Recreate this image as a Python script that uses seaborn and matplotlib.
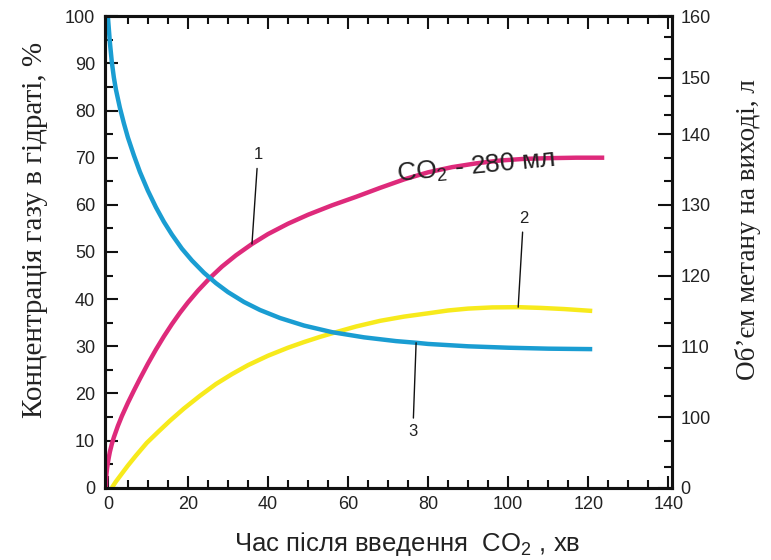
import numpy as np
import pandas as pd
import matplotlib
matplotlib.use("Agg")
import matplotlib.pyplot as plt
import seaborn as sns

# curve 1 (magenta) - CO2 280 ml
x1 = [-0.5, -0.45, -0.35, -0.2, 0, 0.25, 0.5, 1, 1.5, 2.5, 3.5, 5, 6.5, 8, 10, 12, 14, 16,
      18, 20, 22.5, 25.5, 28.5, 32, 36, 40, 45, 50, 56, 62, 68, 74, 80, 86, 92, 98, 104,
      110, 117, 124]
y1 = [0, 1.7, 2.9, 4.1, 5.3, 6.5, 7.6, 9.3, 10.7, 13.1, 15.2, 18, 20.6, 23.1, 26.3, 29.3,
      32.1, 34.7, 37.1, 39.3, 41.8, 44.5, 46.9, 49.3, 51.7, 53.8, 56, 57.9, 59.9, 61.7, 63.6,
      65.4, 66.9, 68, 68.8, 69.4, 69.75, 69.9, 70, 70]

# curve 2 (yellow)
x2 = [1, 2, 3.5, 5, 7, 9.7, 12.5, 15.5, 19, 23, 27, 31, 35, 40, 45, 49, 53, 57, 62, 68,
      74, 80, 85, 90, 96, 102.5, 108, 114, 121]
y2 = [0, 1.3, 3, 4.7, 6.8, 9.5, 11.8, 14.2, 16.8, 19.5, 22, 24.1, 26, 28, 29.7, 30.9, 32, 33,
      34.2, 35.4, 36.3, 37, 37.6, 38, 38.25, 38.3, 38.15, 37.9, 37.5]

# curve 3 (blue)
x3 = [0, 0.5, 1, 1.5, 2, 3, 4, 5, 6.5, 8, 10, 12, 14, 16, 18.5, 21, 24, 27, 30, 34, 38, 43,
      49, 56, 64, 72, 77, 80, 90, 100, 110, 121]
y3 = [100, 94.5, 90.2, 87, 84.5, 80.6, 77.3, 74.3, 70.5, 67, 63, 59.5, 56.4, 53.7, 50.7, 48.2,
      45.6, 43.4, 41.5, 39.4, 37.7, 36, 34.4, 33, 31.9, 31.1, 30.75, 30.5, 30, 29.7, 29.5, 29.4]

# right axis: label values and where they sit on the left scale
right_labels = [0, 100, 110, 120, 130, 140, 150, 160]
right_pos = [0, 15, 30, 45, 60, 75, 87, 100]
right_minor = [4.5, 10, 19.5, 25.5, 35, 40, 50, 55, 65, 70, 79, 83, 91, 95.5]

colors = {"1": "#de2a7b", "2": "#f7ea1c", "3": "#1a9dd2"}

sns.set_style("ticks")
plt.rcParams["font.family"] = ["Liberation Sans", "DejaVu Sans"]
plt.rcParams["mathtext.fontset"] = "custom"
plt.rcParams["mathtext.rm"] = "Liberation Sans"

fig = plt.figure(figsize=(7.71, 5.6), dpi=100)
ax = fig.add_axes([0.136, 0.129, 0.736, 0.842])

df = pd.concat([
    pd.DataFrame({"t": x1, "v": y1, "c": "1"}),
    pd.DataFrame({"t": x2, "v": y2, "c": "2"}),
    pd.DataFrame({"t": x3, "v": y3, "c": "3"}),
])
for key, grp in df.groupby("c"):
    sns.lineplot(data=grp, x="t", y="v", ax=ax, color=colors[key], linewidth=3.2,
                 estimator=None, sort=False, solid_capstyle="butt", solid_joinstyle="round")

ax.set_xlim(-0.75, 141)
ax.set_ylim(0, 100)
ax.set_xticks(np.arange(0, 141, 20))
ax.set_xticks(np.arange(0, 141, 5), minor=True)
ax.set_yticks(np.arange(0, 101, 10))
ax.set_yticks(np.arange(0, 101, 5), minor=True)
ax.tick_params(axis="both", which="both", direction="in", width=1.5, color="#111111",
               labelsize=13, labelcolor="#222222", top=True)
ax.tick_params(axis="both", which="major", length=9)
ax.tick_params(axis="both", which="minor", length=5.5)
ax.tick_params(axis="y", pad=7)
ax.tick_params(axis="x", pad=6)
for s in ax.spines.values():
    s.set_linewidth(2.2)
    s.set_color("#111111")

ax.set_xlabel("Час після введення  CO$_2$ , хв", fontsize=18.5, color="#222222", labelpad=12)
ax.xaxis.label.set_x(0.532)
ax.set_ylabel("Концентрація газу в гідраті, %", fontsize=21, color="#222222",
              family=["Liberation Serif", "DejaVu Serif"], labelpad=12)
ax.yaxis.label.set_y(0.547)

ax2 = ax.twinx()
ax2.set_ylim(0, 100)
ax2.set_yticks(right_pos)
ax2.set_yticklabels([str(v) for v in right_labels])
ax2.set_yticks(right_minor, minor=True)
ax2.tick_params(axis="y", which="both", direction="in", width=1.5, color="#111111",
                labelsize=13, labelcolor="#222222", pad=6)
ax2.tick_params(axis="y", which="major", length=10)
ax2.tick_params(axis="y", which="minor", length=5.5)
for s in ax2.spines.values():
    s.set_linewidth(2.2)
    s.set_color("#111111")
ax2.set_ylabel("Об’єм метану на виході, л", fontsize=19.5, color="#222222",
               family=["Liberation Serif", "DejaVu Serif"], labelpad=17)
ax2.yaxis.label.set_y(0.547)

# curve labels
i1 = x1.index(36)
i2 = x2.index(102.5)
i3 = x3.index(77)
arrow = dict(arrowstyle="-", color="#111111", lw=1.0, shrinkA=2, shrinkB=0)
ax.annotate("1", xy=(x1[i1], y1[i1]), xytext=(37.5, 69), ha="center", va="bottom",
            fontsize=12, color="#222222", arrowprops=arrow)
ax.annotate("2", xy=(x2[i2], y2[i2]), xytext=(103.8, 55.5), ha="center", va="bottom",
            fontsize=12, color="#222222", arrowprops=arrow)
ax.annotate("3", xy=(x3[i3], y3[i3]), xytext=(76.2, 13.5), ha="center", va="top",
            fontsize=12, color="#222222", arrowprops=arrow)
ax.text(72.3, 64.9, "CO$_{\\mathregular{2}}$ - 280 мл", fontsize=19, color="#222222",
        rotation=5.5, rotation_mode="anchor", ha="left", va="baseline", zorder=5)

fig.savefig("out.png", dpi=100)
